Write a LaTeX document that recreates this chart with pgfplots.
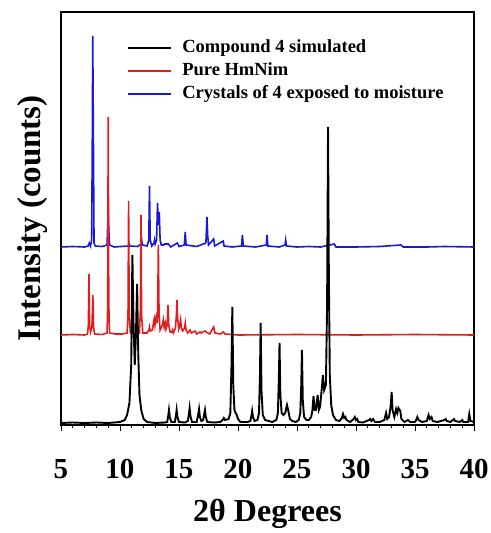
\documentclass[border=0pt]{standalone}
\usepackage{fontspec}
\setmainfont{Liberation Serif}
\usepackage{pgfplots}
\pgfplotsset{compat=1.18}
\usetikzlibrary{calc}

\definecolor{xrdred}{RGB}{225,30,30}
\definecolor{xrdblue}{RGB}{25,25,215}

\begin{document}
\begin{tikzpicture}
\begin{axis}[
  scale only axis,
  width=413pt, height=413pt,
  xmin=5, xmax=40, ymin=0, ymax=413,
  xtick={5,10,...,40},
  minor x tick num=4,
  xtick pos=left,
  tick align=outside,
  major tick length=6pt,
  minor tick length=3pt,
  every tick/.style={black, line width=0.9pt},
  ytick=\empty,
  axis line style={line width=1.4pt},
  /pgf/number format/assume math mode=true,
  xticklabel style={font=\fontsize{29}{30}\selectfont\bfseries, yshift=-25pt},
  xlabel={2θ Degrees},
  xlabel style={font=\fontsize{32}{34}\selectfont\bfseries, at={(axis description cs:0.5,0)}, anchor=north, yshift=-71pt},
  ylabel={Intensity (counts)},
  ylabel style={font=\fontsize{33}{35}\selectfont\bfseries, at={(axis description cs:-0.024,0.5)}, anchor=south},
  legend style={draw=none, fill=none, inner sep=0pt, at={(axis description cs:0.16,0.936)}, anchor=north west,
    font=\fontsize{18.5}{20}\selectfont\bfseries, row sep=4pt,
    nodes={inner sep=1pt, text height=13pt, text depth=4pt},
    /tikz/every odd column/.append style={column sep=9pt}},
  legend cell align=left,
  legend image code/.code={\draw[#1, line width=2pt] (0pt,0pt) -- (43pt,0pt);},
]
\coordinate (O) at (rel axis cs:0,0);
\coordinate (T) at (rel axis cs:1,1);

\addlegendimage{black}
\addlegendentry{Compound 4 simulated}
\addlegendimage{xrdred}
\addlegendentry{Pure HmNim}
\addlegendimage{xrdblue}
\addlegendentry{Crystals of 4 exposed to moisture}

% crystals exposed to moisture (offset 178)
\addplot[xrdblue, line width=1.6pt, forget plot] coordinates {
(5,178) (6,178.5) (7,178) (7.3,179) (7.4,182) (7.5,179) (7.6,185) (7.66,300) (7.69,389) (7.74,300) (7.8,182) (7.9,179)
(8.5,178.5) (8.9,180) (8.96,200) (9.0,215) (9.05,195) (9.12,180) (9.5,178) (10.7,179) (10.76,182) (10.82,179)
(11.5,178.5) (11.77,181) (11.83,186) (11.9,180) (12.3,179) (12.44,185) (12.5,239) (12.56,185) (12.7,179)
(12.88,182) (12.93,185) (12.98,181) (13.1,185) (13.18,222) (13.24,200) (13.33,213) (13.4,185) (13.5,180)
(13.7,180) (13.78,181) (14.1,181) (14.3,178) (14.86,182) (15.0,178.5) (15.45,180) (15.53,193) (15.6,180)
(16.5,178.5) (17.28,182) (17.37,208) (17.43,190) (17.5,180) (17.94,186) (18.02,179) (18.75,184) (18.82,179)
(19.5,178) (20.3,179) (20.37,190) (20.45,179) (21.5,178) (22.4,180) (22.46,190) (22.53,179) (23.5,178)
(23.98,180) (24.04,185) (24.1,179) (25,178) (26,178.5) (27,178) (28.16,181) (28.3,178) (30,178) (32,178.5)
(33.8,180) (34,178) (36,178) (37.5,178.5) (40,178)
};

% pure HmNim (offset 90)
\addplot[xrdred, line width=1.6pt, forget plot] coordinates {
(5,90) (6,90.5) (7,90) (7.25,91) (7.32,100) (7.37,151) (7.42,100) (7.5,93) (7.62,98) (7.7,130) (7.76,98) (7.85,91)
(8.5,90.5) (8.9,92) (8.96,120) (9.0,308) (9.05,120) (9.12,92) (9.6,91) (10.2,91) (10.6,92) (10.68,110) (10.73,224)
(10.78,110) (10.88,92) (11.3,91) (11.65,92) (11.73,115) (11.78,210) (11.83,110) (11.93,92) (12.3,92) (12.45,95)
(12.5,98) (12.56,94) (12.75,95) (12.87,105) (12.92,107) (12.97,100) (13.03,105) (13.08,108) (13.13,102) (13.19,110)
(13.25,180) (13.31,110) (13.4,95) (13.6,100) (13.67,105) (13.74,98) (13.8,102) (13.84,103) (13.9,96) (14.0,100)
(14.07,120) (14.13,100) (14.25,93) (14.4,93) (14.46,95) (14.52,92) (14.7,97) (14.78,110) (14.83,125) (14.88,108)
(14.98,96) (15.08,100) (15.14,105) (15.2,97) (15.3,94) (15.47,97) (15.53,102) (15.6,95) (15.75,92) (15.93,95)
(16.05,92) (16.36,94) (16.5,91) (16.78,93) (16.9,92) (17.0,93) (17.2,94) (17.3,93) (17.6,91) (17.94,98) (18.05,92)
(18.5,91) (18.75,93) (18.9,91) (19.5,90.5) (20,90) (25,90.5) (30,90) (35,90.5) (40,90)
};

% compound 4 simulated (offset 2)
\addplot[black, line width=1.9pt, forget plot] coordinates {
(5,2) (6,2.5) (7,2) (8,2.5) (9,2) (10,3) (10.4,5) (10.6,10) (10.8,22) (10.95,60) (11.05,170) (11.15,100) (11.25,60)
(11.35,90) (11.45,141) (11.55,70) (11.65,30) (11.8,15) (12.0,6) (12.3,3) (13,2) (13.8,2.5)
(14.0,3) (14.1,10) (14.15,15) (14.22,8) (14.35,3) (14.65,3) (14.75,10) (14.8,15) (14.87,8) (15.0,3)
(15.5,2.5) (15.75,4) (15.85,12) (15.9,17) (15.97,9) (16.1,3) (16.5,3) (16.62,10) (16.7,16) (16.77,8) (16.9,4)
(17.05,5) (17.15,12) (17.2,15) (17.27,8) (17.4,3) (18.0,2.5) (18.5,3) (18.7,5) (18.8,7) (18.9,5)
(19.2,6) (19.35,12) (19.45,60) (19.52,118) (19.6,40) (19.7,15) (19.8,12) (19.9,10) (20.0,6) (20.2,3) (20.8,3)
(21.05,4) (21.15,10) (21.2,14) (21.27,8) (21.4,4) (21.65,5) (21.78,12) (21.86,50) (21.92,102) (21.99,35) (22.1,10)
(22.3,5) (22.6,4) (22.9,3) (23.25,5) (23.38,12) (23.46,45) (23.52,82) (23.59,30) (23.7,12) (23.85,10) (24.0,12)
(24.15,20) (24.25,15) (24.4,6) (24.6,4) (24.9,3) (25.15,5) (25.28,12) (25.36,40) (25.42,75) (25.49,25) (25.6,8)
(25.8,5) (26.0,5) (26.2,8) (26.3,14) (26.4,29) (26.5,15) (26.6,15) (26.75,30) (26.85,15) (26.95,18) (27.05,30)
(27.2,50) (27.3,35) (27.45,40) (27.55,120) (27.63,298) (27.7,150) (27.78,50) (27.9,20) (28.05,10) (28.3,5) (28.6,4)
(28.8,7) (28.9,11) (29.0,7) (29.1,8) (29.2,5) (29.5,3) (29.8,6) (29.9,8) (30.0,5) (30.1,6) (30.2,3) (30.6,2.5)
(31.1,5) (31.2,6) (31.3,4) (31.45,6) (31.6,3) (32,3) (32.4,5) (32.55,12) (32.65,6) (32.8,8) (32.95,20) (33.02,33)
(33.1,15) (33.25,8) (33.4,16) (33.5,12) (33.6,17) (33.75,14) (33.85,6) (34.1,3) (34.4,5) (34.6,3) (35,3)
(35.1,5) (35.2,8) (35.3,5) (35.6,3) (36.0,4) (36.15,10) (36.25,6) (36.4,8) (36.5,4) (36.9,3) (37.5,5) (37.6,6)
(37.7,4) (38,3) (38.3,6) (38.4,4) (38.8,3) (39.0,5) (39.1,3) (39.5,3) (39.6,11) (39.7,4) (40,3)
};
\end{axis}
\pgfresetboundingbox
\path[use as bounding box] ($(O)+(-61pt,-108pt)$) rectangle ($(T)+(17pt,12pt)$);
\end{tikzpicture}
\end{document}
